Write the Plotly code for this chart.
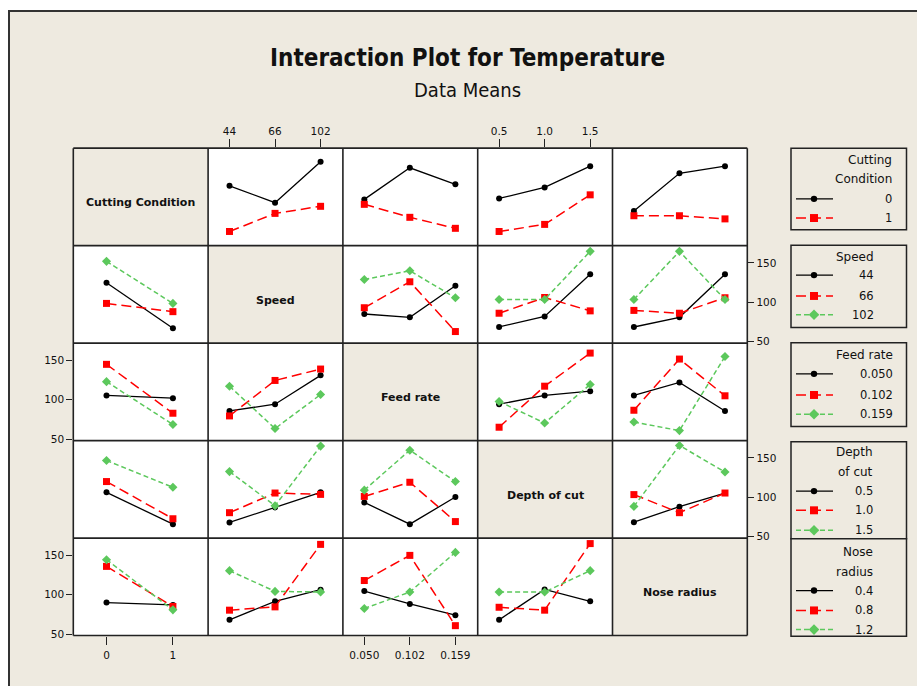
import plotly.graph_objects as go

W, H = 917, 686
BG = "#EEEAE0"
EDGE = "#222222"

# ---------------- data (means of Temperature) ----------------
FACTORS = ["Cutting Condition", "Speed", "Feed rate", "Depth of cut", "Nose radius"]
CC_LEVELS = ["0", "1"]
SPEED_LEVELS = ["44", "66", "102"]
FEED_LEVELS = ["0.050", "0.102", "0.159"]
DEPTH_LEVELS = ["0.5", "1.0", "1.5"]
NOSE_LEVELS = ["0.4", "0.8", "1.2"]
LEGEND_TITLES = [["Cutting", "Condition"], ["Speed"], ["Feed rate"], ["Depth", "of cut"], ["Nose", "radius"]]
Y_TICKS = [50, 100, 150]

# row factor = line grouping, column factor = x axis
cc_x_speed = [[124, 102.6, 154.6], [66, 89, 98]]
cc_x_feed = [[106.8, 147, 126], [100.5, 84, 70]]
cc_x_depth = [[108, 122, 149], [66, 75, 112.6]]
cc_x_nose = [[92, 140, 149], [86, 86, 82]]

speed_x_cc = [[124.7, 67], [98.5, 88], [152, 98.5]]
speed_x_feed = [[85, 80.8, 121], [93, 126, 62.7], [128.9, 140, 105.7]]
speed_x_depth = [[68.5, 82, 135.6], [86, 106, 89], [103.5, 103.5, 164.7]]
speed_x_nose = [[68.5, 80.8, 135.6], [89.6, 86, 105.7], [103.5, 164.7, 103.5]]

feed_x_cc = [[105.4, 102], [145, 82.8], [123, 68.4]]
feed_x_speed = [[85.7, 94.3, 131], [79.4, 124.5, 139], [117.2, 63.3, 106.6]]
feed_x_depth = [[94.3, 105.4, 110.8], [65, 117.2, 159.3], [97.7, 70.4, 119.4]]
feed_x_nose = [[105.4, 122, 85.7], [86.6, 151.7, 105], [71.7, 60.7, 155]]

depth_x_cc = [[106.2, 65.7], [119.9, 72.6], [146.7, 112.6]]
depth_x_speed = [[67.9, 87, 106.2], [80.3, 105.3, 103.6], [132.6, 89.2, 165]]
depth_x_feed = [[93.4, 65.7, 100.2], [101, 119, 69], [109, 159.8, 119.9]]
depth_x_nose = [[68.3, 88, 105.3], [103.3, 80.3, 105.3], [88.3, 165.8, 132]]

nose_x_cc = [[90, 87], [136, 85], [144.5, 80.7]]
nose_x_speed = [[68, 91.6, 106.3], [80.3, 84.5, 164], [130.6, 104.2, 103.4]]
nose_x_feed = [[104.6, 88.3, 74], [118, 150, 60.6], [82.4, 103.4, 153.8]]
nose_x_depth = [[68, 106.7, 91.6], [84, 80.3, 165], [103.4, 103.4, 130.6]]

LEVELS = [CC_LEVELS, SPEED_LEVELS, FEED_LEVELS, DEPTH_LEVELS, NOSE_LEVELS]
PANELS = {
    (0, 1): cc_x_speed, (0, 2): cc_x_feed, (0, 3): cc_x_depth, (0, 4): cc_x_nose,
    (1, 0): speed_x_cc, (1, 2): speed_x_feed, (1, 3): speed_x_depth, (1, 4): speed_x_nose,
    (2, 0): feed_x_cc, (2, 1): feed_x_speed, (2, 3): feed_x_depth, (2, 4): feed_x_nose,
    (3, 0): depth_x_cc, (3, 1): depth_x_speed, (3, 2): depth_x_feed, (3, 4): depth_x_nose,
    (4, 0): nose_x_cc, (4, 1): nose_x_speed, (4, 2): nose_x_feed, (4, 3): nose_x_depth,
}

# ---------------- styling / layout geometry (pixels) ----------------
STYLES = [
    dict(color="#000000", dash="solid", symbol="circle", size=6, width=1.3),
    dict(color="#FF0000", dash="10px,5px", symbol="square", size=7, width=1.5),
    dict(color="#5CC85C", dash="5px,3px", symbol="diamond", size=7, width=1.5),
]
X_EDGES = [73.3 + 134.8 * k for k in range(6)]
Y_EDGES = [149 + 98.06 * k for k in range(6)]
Y_RANGE = [48, 172]


def fx(p):
    return p / W


def fy(p):
    return 1 - p / H


TICKFONT = dict(family="DejaVu Sans", size=10.5, color="#111111")
TITLEFAMILY = "DejaVu Sans Condensed, Liberation Sans Narrow, Liberation Sans"

fig = go.Figure()
layout = dict(
    width=W, height=H, margin=dict(l=0, r=0, t=0, b=0, pad=0),
    paper_bgcolor="white", plot_bgcolor="rgba(0,0,0,0)", showlegend=False,
)
shapes = []
annotations = []

# frame / background
shapes.append(dict(type="rect", xref="paper", yref="paper", x0=fx(9), x1=fx(W + 20), y0=fy(H + 20), y1=fy(11),
                   fillcolor=BG, line=dict(color="#333333", width=2), layer="below"))

for r in range(5):
    for c in range(5):
        n = r * 5 + c + 1
        sfx = "" if n == 1 else str(n)
        nlev = len(LEVELS[c])
        xr = [-0.5, 1.53] if nlev == 2 else [-0.47, 2.49]
        show_x = (r == 0 and c in (1, 3)) or (r == 4 and c in (0, 2, 4))
        show_y = (c == 0 and r in (0, 2, 4)) or (c == 4 and r in (1, 3))
        layout["xaxis" + sfx] = dict(
            domain=[fx(X_EDGES[c]), fx(X_EDGES[c + 1])], anchor="y" + sfx, range=xr,
            tickmode="array", tickvals=list(range(nlev)), ticktext=LEVELS[c],
            showline=False,
            ticks="outside" if show_x else "", ticklen=8, tickcolor=EDGE, tickwidth=1,
            showticklabels=show_x, side="top" if r == 0 else "bottom",
            ticklabelstandoff=2 if r == 4 else 0,
            showgrid=False, zeroline=False, tickfont=TICKFONT, fixedrange=True,
        )
        layout["yaxis" + sfx] = dict(
            domain=[fy(Y_EDGES[r + 1]), fy(Y_EDGES[r])], anchor="x" + sfx, range=Y_RANGE,
            tickmode="array", tickvals=Y_TICKS,
            showline=False,
            ticks="outside" if show_y else "", ticklen=6, tickcolor=EDGE, tickwidth=1,
            showticklabels=show_y, side="right" if c == 4 else "left",
            showgrid=False, zeroline=False, tickfont=TICKFONT, fixedrange=True,
        )
        # panel fill
        shapes.append(dict(type="rect", xref="paper", yref="paper",
                           x0=fx(X_EDGES[c]), x1=fx(X_EDGES[c + 1]),
                           y0=fy(Y_EDGES[r + 1]), y1=fy(Y_EDGES[r]),
                           fillcolor=BG if r == c else "white", line=dict(width=0), layer="below"))
        if r == c:
            annotations.append(dict(text="<b>%s</b>" % FACTORS[r], xref="paper", yref="paper",
                                    x=fx((X_EDGES[c] + X_EDGES[c + 1]) / 2),
                                    y=fy((Y_EDGES[r] + Y_EDGES[r + 1]) / 2 + 6),
                                    showarrow=False, xanchor="center", yanchor="middle",
                                    font=dict(family="DejaVu Sans", size=11, color="#111111")))
            continue
        vals = PANELS[(r, c)]
        for k, series in enumerate(vals):
            st = STYLES[k]
            fig.add_trace(go.Scatter(
                x=list(range(nlev)), y=series, xaxis="x" + sfx, yaxis="y" + sfx, mode="lines+markers",
                line=dict(color=st["color"], dash=st["dash"], width=st["width"]),
                marker=dict(symbol=st["symbol"], size=st["size"], color=st["color"], line=dict(width=0)),
                hoverinfo="skip", cliponaxis=False,
            ))

# grid border lines
for xe in X_EDGES:
    shapes.append(dict(type="line", xref="paper", yref="paper", x0=fx(xe), x1=fx(xe),
                       y0=fy(Y_EDGES[0]), y1=fy(Y_EDGES[-1]), line=dict(color=EDGE, width=1.6), layer="below"))
for ye in Y_EDGES:
    shapes.append(dict(type="line", xref="paper", yref="paper", x0=fx(X_EDGES[0]), x1=fx(X_EDGES[-1]),
                       y0=fy(ye), y1=fy(ye), line=dict(color=EDGE, width=1.6), layer="below"))

# ---------------- legends (drawn) ----------------
LEG_BOXES = [(149, 231), (246.7, 329.3), (344.7, 429), (444.3, 542), (542, 640)]
LEG_RIGHT = [894, 876, 895, 875, 875]
LEG_LINE_Y = [[160.7, 180, 200, 219.3], [258.3, 276.7, 297.7, 316.7], [356.7, 376, 397.3, 416.7],
              [455, 475, 494, 513.3, 533.3], [555, 575, 594, 614, 633.3]]
LFONT = dict(family="DejaVu Sans", size=12, color="#111111")
for i in range(5):
    y0, y1 = LEG_BOXES[i]
    shapes.append(dict(type="rect", xref="paper", yref="paper", x0=fx(791), x1=fx(906.5),
                       y0=fy(y1), y1=fy(y0), fillcolor=BG, line=dict(color=EDGE, width=1.5), layer="below"))
    titles = LEGEND_TITLES[i]
    ys = LEG_LINE_Y[i]
    for j, t in enumerate(titles):
        annotations.append(dict(text=t, xref="paper", yref="paper", x=fx(LEG_RIGHT[i]), y=fy(ys[j]),
                                showarrow=False, xanchor="right", yanchor="middle", font=LFONT))
    for k, lev in enumerate(LEVELS[i]):
        yy = ys[len(titles) + k]
        st = STYLES[k]
        annotations.append(dict(text=lev, xref="paper", yref="paper", x=fx(LEG_RIGHT[i]), y=fy(yy),
                                showarrow=False, xanchor="right", yanchor="middle",
                                font=dict(family="DejaVu Sans", size=11.5, color="#111111")))
        shapes.append(dict(type="line", xref="paper", yref="paper", x0=fx(796), x1=fx(833), y0=fy(yy), y1=fy(yy),
                           line=dict(color=st["color"], width=st["width"],
                                     dash="solid" if k == 0 else st["dash"])))
        cx = 814
        if k == 0:
            shapes.append(dict(type="circle", xref="paper", yref="paper", x0=fx(cx - 3.2), x1=fx(cx + 3.2),
                               y0=fy(yy + 3.2), y1=fy(yy - 3.2), fillcolor=st["color"], line=dict(width=0)))
        elif k == 1:
            shapes.append(dict(type="rect", xref="paper", yref="paper", x0=fx(cx - 4), x1=fx(cx + 4),
                               y0=fy(yy + 4), y1=fy(yy - 4), fillcolor=st["color"], line=dict(width=0)))
        else:
            path = "M %f,%f L %f,%f L %f,%f L %f,%f Z" % (
                fx(cx - 5.3), fy(yy), fx(cx), fy(yy - 5.3), fx(cx + 5.3), fy(yy), fx(cx), fy(yy + 5.3))
            shapes.append(dict(type="path", xref="paper", yref="paper", path=path,
                               fillcolor=st["color"], line=dict(width=0)))

# ---------------- titles ----------------
annotations.append(dict(text="<b>Interaction Plot for Temperature</b>", xref="paper", yref="paper",
                        x=fx(467), y=fy(58), showarrow=False, xanchor="center", yanchor="middle",
                        font=dict(family=TITLEFAMILY, size=24, color="#111111")))
annotations.append(dict(text="Data Means", xref="paper", yref="paper",
                        x=fx(467), y=fy(91), showarrow=False, xanchor="center", yanchor="middle",
                        font=dict(family=TITLEFAMILY, size=20, color="#111111")))

layout["shapes"] = shapes
layout["annotations"] = annotations
fig.update_layout(**layout)
fig.write_html("out.html", config={"displayModeBar": False},
               post_script="document.body.style.margin='0';document.body.style.overflow='hidden';")
